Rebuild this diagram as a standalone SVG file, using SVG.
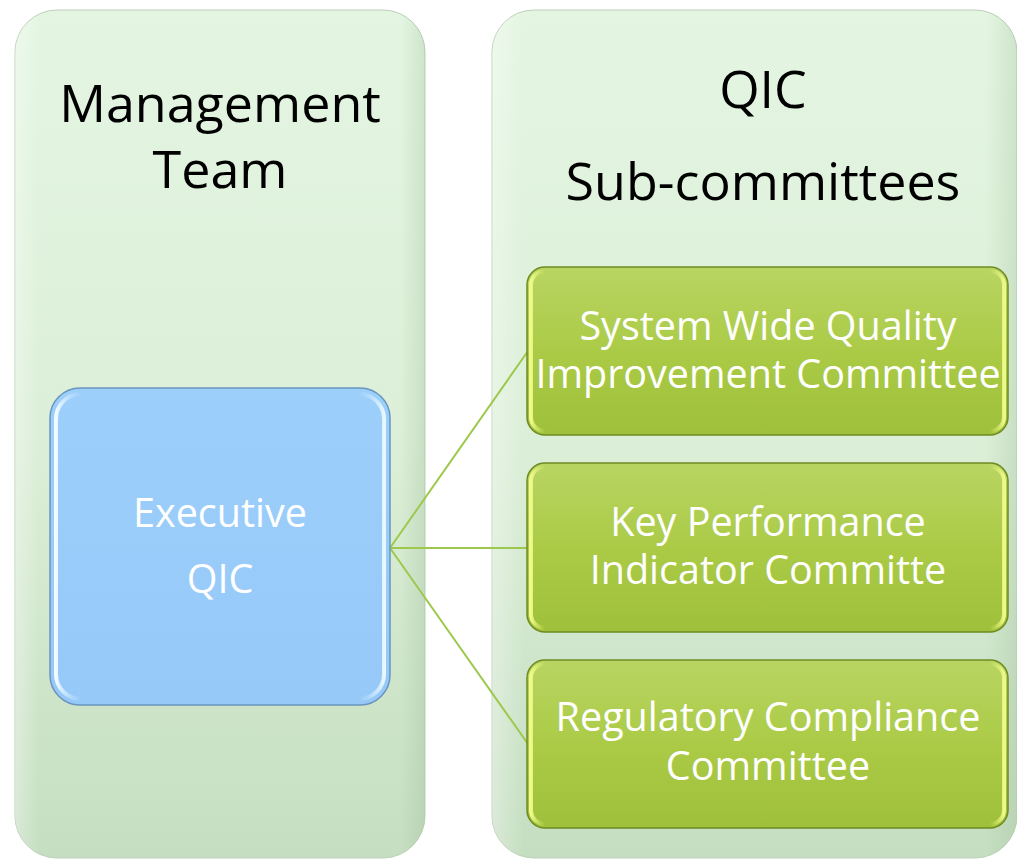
<svg xmlns="http://www.w3.org/2000/svg" width="1017" height="860" viewBox="0 0 1017 860">
  <defs>
    <linearGradient id="panelFill" x1="0" y1="0" x2="0" y2="1">
      <stop offset="0" stop-color="#e4f6e2"/>
      <stop offset="0.5" stop-color="#dcefd8"/>
      <stop offset="1" stop-color="#c5dec1"/>
    </linearGradient>
    <linearGradient id="panelEdge" x1="0" y1="0" x2="1" y2="0">
      <stop offset="0" stop-color="#ffffff" stop-opacity="0.35"/>
      <stop offset="0.06" stop-color="#ffffff" stop-opacity="0"/>
      <stop offset="0.94" stop-color="#8fb088" stop-opacity="0"/>
      <stop offset="1" stop-color="#8fb088" stop-opacity="0.25"/>
    </linearGradient>
    <linearGradient id="blueFill" x1="0" y1="0" x2="0" y2="1">
      <stop offset="0" stop-color="#9dcffb"/>
      <stop offset="1" stop-color="#96c9f8"/>
    </linearGradient>
    <linearGradient id="blueRim" x1="0" y1="0" x2="1" y2="0">
      <stop offset="0" stop-color="#f2fbff"/>
      <stop offset="0.08" stop-color="#bfe4ff" stop-opacity="0"/>
      <stop offset="0.92" stop-color="#bfe4ff" stop-opacity="0"/>
      <stop offset="1" stop-color="#e8f8ff"/>
    </linearGradient>
    <linearGradient id="greenFill" x1="0" y1="0" x2="0" y2="1">
      <stop offset="0" stop-color="#b8d562"/>
      <stop offset="0.5" stop-color="#abcb47"/>
      <stop offset="1" stop-color="#9fc03a"/>
    </linearGradient>
    <linearGradient id="greenRim" x1="0" y1="0" x2="1" y2="0">
      <stop offset="0" stop-color="#f0fa8a"/>
      <stop offset="0.03" stop-color="#e0f070" stop-opacity="0"/>
      <stop offset="0.97" stop-color="#e0f070" stop-opacity="0"/>
      <stop offset="1" stop-color="#eef98a"/>
    </linearGradient>
    <style>
      .panel { fill: url(#panelFill); stroke: #bcd0b8; stroke-width: 1; }
      .panelShade { fill: url(#panelEdge); }
      .title { font-family: "Open Sans", "Liberation Sans", sans-serif; font-size: 52px; fill: #000000; text-anchor: middle; }
      .blue { fill: url(#blueFill); stroke: #6a95c0; stroke-width: 1.5; }
      .blueRim { fill: none; stroke: url(#blueRim); stroke-width: 4; }
      .green { fill: url(#greenFill); stroke: #6f8b22; stroke-width: 1.5; }
      .greenRim { fill: none; stroke: url(#greenRim); stroke-width: 4; }
      .label { font-family: "Open Sans", "Liberation Sans", sans-serif; font-size: 39.5px; fill: #ffffff; text-anchor: middle; }
      .link { stroke: #9dc84c; stroke-width: 2; fill: none; }
    </style>
  </defs>

  <rect width="1017" height="860" fill="#ffffff"/>

  <!-- outer containers -->
  <g id="management-team">
    <rect class="panel" x="15" y="10" width="410" height="848" rx="42"/>
    <rect class="panelShade" x="15" y="10" width="410" height="848" rx="42"/>
    <text class="title" x="220" y="122">Management</text>
    <text class="title" x="220" y="188">Team</text>
  </g>

  <g id="qic-subcommittees">
    <rect class="panel" x="492" y="10" width="525" height="848" rx="42"/>
    <rect class="panelShade" x="492" y="10" width="525" height="848" rx="42"/>
    <text class="title" x="763" y="108">QIC</text>
    <text class="title" x="763" y="200">Sub-committees</text>
  </g>

  <!-- connectors -->
  <g id="connectors">
    <line class="link" x1="390" y1="548" x2="528" y2="351"/>
    <line class="link" x1="390" y1="548" x2="528" y2="548"/>
    <line class="link" x1="390" y1="548" x2="528" y2="744"/>
  </g>

  <g id="executive-qic">
    <rect class="blue" x="50" y="388" width="340" height="317" rx="30"/>
    <rect class="blueRim" x="56" y="394" width="328" height="305" rx="25"/>
    <text class="label" x="220" y="527">Executive</text>
    <text class="label" x="220" y="593">QIC</text>
  </g>

  <g id="system-wide-qi">
    <rect class="green" x="527" y="267" width="481" height="168" rx="18"/>
    <rect class="greenRim" x="531" y="271" width="473" height="160" rx="14"/>
    <text class="label" x="768" y="340">System Wide Quality</text>
    <text class="label" x="768" y="388">Improvement Committee</text>
  </g>

  <g id="kpi-committee">
    <rect class="green" x="527" y="463" width="481" height="169" rx="18"/>
    <rect class="greenRim" x="531" y="467" width="473" height="161" rx="14"/>
    <text class="label" x="768" y="536">Key Performance</text>
    <text class="label" x="768" y="584">Indicator Committe</text>
  </g>

  <g id="regulatory-compliance">
    <rect class="green" x="527" y="660" width="481" height="168" rx="18"/>
    <rect class="greenRim" x="531" y="664" width="473" height="160" rx="14"/>
    <text class="label" x="768" y="731">Regulatory Compliance</text>
    <text class="label" x="768" y="780">Committee</text>
  </g>
</svg>
